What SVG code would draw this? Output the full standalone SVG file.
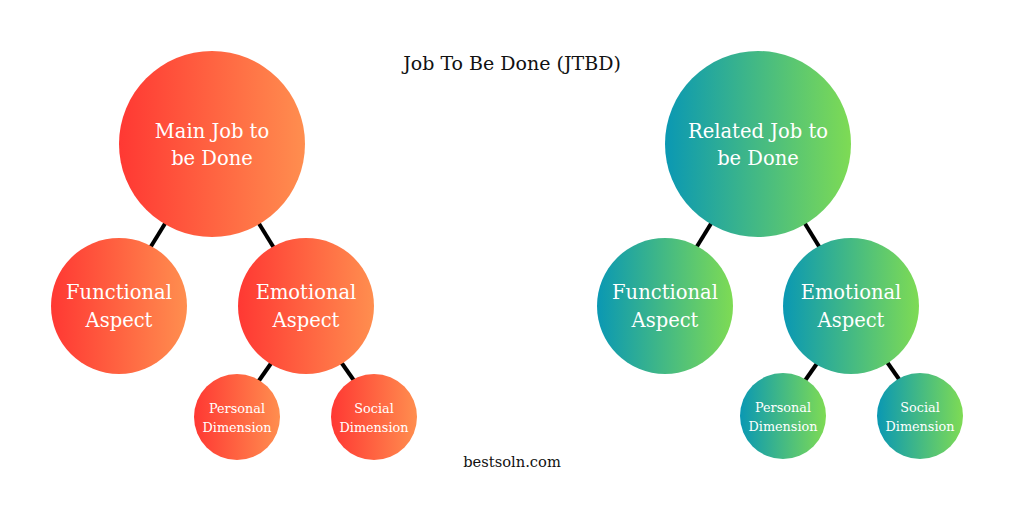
<svg xmlns="http://www.w3.org/2000/svg" width="1024" height="512" viewBox="0 0 1024 512">
<style>
.t{font-family:"DejaVu Serif","Liberation Serif",serif;fill:#fff;text-anchor:middle}
.big{font-size:19.5px}
.sm{font-size:12.8px}
.lbl{font-family:"DejaVu Serif","Liberation Serif",serif;fill:#111;text-anchor:middle}
.c line{stroke:#000;stroke-width:4}
</style>
<defs>
<linearGradient id="red" x1="0" y1="0" x2="1" y2="0"><stop offset="0" stop-color="#ff3833"/><stop offset="1" stop-color="#ff8e4f"/></linearGradient>
<linearGradient id="grn" x1="0" y1="0" x2="1" y2="0"><stop offset="0" stop-color="#0a98b3"/><stop offset="1" stop-color="#7edb54"/></linearGradient>
</defs>
<rect width="1024" height="512" fill="#fff"/>
<text class="lbl" x="512" y="70" font-size="19">Job To Be Done (JTBD)</text>
<text class="lbl" x="512" y="467" font-size="14.7">bestsoln.com</text>
<g class="c" id="connectors">
<line x1="166" y1="222" x2="150" y2="248"/>
<line x1="258" y1="222" x2="274" y2="248"/>
<line x1="272" y1="362" x2="258" y2="382"/>
<line x1="341" y1="362" x2="355" y2="382"/>
<line x1="712" y1="222" x2="696" y2="248"/>
<line x1="804" y1="222" x2="820" y2="248"/>
<line x1="818" y1="362" x2="804" y2="382"/>
<line x1="887" y1="362" x2="901" y2="382"/>
</g>
<g id="main-left"><circle cx="212" cy="144" r="93" fill="url(#red)"/><text class="t big" x="212" y="138">Main Job to</text><text class="t big" x="212" y="165">be Done</text></g>
<g id="func-left"><circle cx="119" cy="306" r="68" fill="url(#red)"/><text class="t big" x="119" y="299">Functional</text><text class="t big" x="119" y="327">Aspect</text></g>
<g id="emo-left"><circle cx="306" cy="306" r="68" fill="url(#red)"/><text class="t big" x="306" y="299">Emotional</text><text class="t big" x="306" y="327">Aspect</text></g>
<g id="pers-left"><circle cx="237" cy="417" r="43" fill="url(#red)"/><text class="t sm" x="237" y="413">Personal</text><text class="t sm" x="237" y="432">Dimension</text></g>
<g id="soc-left"><circle cx="374" cy="417" r="43" fill="url(#red)"/><text class="t sm" x="374" y="413">Social</text><text class="t sm" x="374" y="432">Dimension</text></g>
<g id="main-right"><circle cx="758" cy="144" r="93" fill="url(#grn)"/><text class="t big" x="758" y="138">Related Job to</text><text class="t big" x="758" y="165">be Done</text></g>
<g id="func-right"><circle cx="665" cy="306" r="68" fill="url(#grn)"/><text class="t big" x="665" y="299">Functional</text><text class="t big" x="665" y="327">Aspect</text></g>
<g id="emo-right"><circle cx="851" cy="306" r="68" fill="url(#grn)"/><text class="t big" x="851" y="299">Emotional</text><text class="t big" x="851" y="327">Aspect</text></g>
<g id="pers-right"><circle cx="783" cy="416" r="43" fill="url(#grn)"/><text class="t sm" x="783" y="412">Personal</text><text class="t sm" x="783" y="431">Dimension</text></g>
<g id="soc-right"><circle cx="920" cy="416" r="43" fill="url(#grn)"/><text class="t sm" x="920" y="412">Social</text><text class="t sm" x="920" y="431">Dimension</text></g>
</svg>
